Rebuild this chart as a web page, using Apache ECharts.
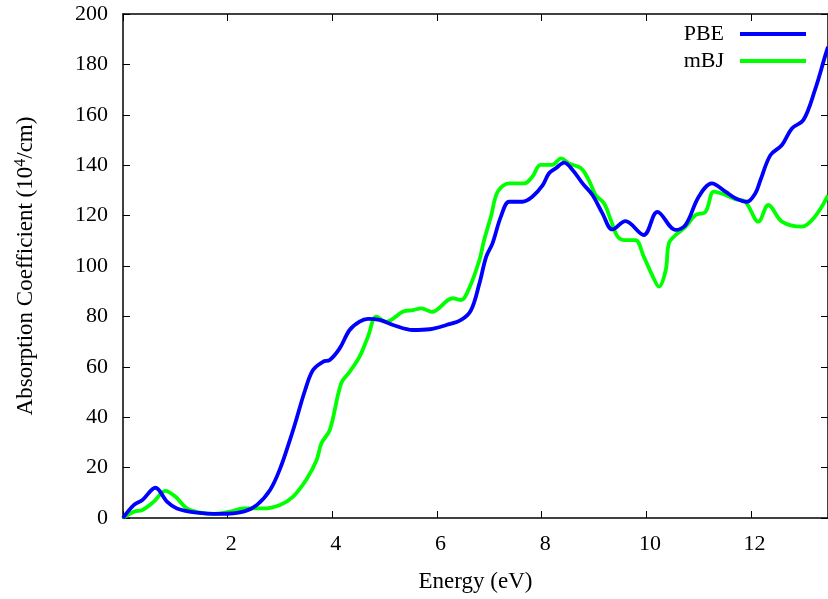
<!DOCTYPE html>
<html><head><meta charset="utf-8">
<script src="https://cdn.jsdelivr.net/npm/echarts@6/dist/echarts.min.js"></script>
<style>html,body{margin:0;padding:0;background:#fff}#c{width:828px;height:599px}</style>
</head><body><div id="c"></div>
<script>
const pbeX = [0,0.21,0.37,0.62,0.84,1.03,1.41,1.86,2.3,2.56,2.81,3.0,3.19,3.29,3.48,3.63,3.82,3.95,4.14,4.33,4.52,4.68,4.9,5.16,5.54,5.86,6.18,6.46,6.65,6.81,6.94,7.06,7.22,7.38,7.63,7.82,8.02,8.14,8.27,8.43,8.59,8.78,8.97,9.16,9.35,9.6,9.95,10.21,10.56,10.75,11.0,11.25,11.51,11.7,11.92,12.08,12.18,12.37,12.59,12.78,13.0,13.22,13.42,13.47];
const pbeY = [0,5.2,7.1,12.0,6.5,3.8,2.1,1.6,2.5,5.2,11.1,19.5,31,37.6,50.8,58.7,62,62.7,67.3,74.6,77.9,79,78.6,76.6,74.6,74.9,76.6,78.6,82.5,93.1,103.7,109,119.6,125.5,125.5,127.5,132.1,136.8,138.8,141,138.1,132.8,128.2,120.9,114.5,117.8,112.3,121.5,114.3,116.3,127.5,132.8,129.5,126.9,125.5,128.8,134.1,144,148,154.6,157.9,169.8,183.7,187];
const mbjX = [0,0.21,0.37,0.59,0.81,1.0,1.22,1.48,1.73,2.05,2.3,2.68,3.0,3.25,3.51,3.7,3.79,3.95,4.17,4.33,4.52,4.68,4.84,5.03,5.35,5.54,5.7,5.9,6.3,6.46,6.62,6.81,6.9,7.03,7.16,7.38,7.67,7.82,7.98,8.2,8.37,8.52,8.75,8.9,9.03,9.19,9.32,9.44,9.57,9.79,9.95,10.11,10.24,10.37,10.43,10.56,10.75,10.94,11.13,11.29,11.51,11.7,11.89,12.14,12.33,12.59,12.97,13.22,13.47];
const mbjY = [0,2.5,3.2,6.5,10.8,8.5,3.8,2.1,1.6,2.5,3.8,3.8,5.2,8.5,15.5,23,29.6,34.9,53.5,58,64,71.9,79.9,77.9,81.9,82.5,83.2,81.8,87.2,86.5,91.5,102.4,110.3,119.6,129.5,132.8,132.8,135.4,140.1,140.1,142.7,140.7,138.8,134.1,128.2,124.9,118.3,112,110.3,110.3,103.7,96.4,91.8,98.4,109,112.3,115.6,120.2,121.5,129.5,128.2,126.5,125.5,117.6,124.2,117.6,115.6,119.6,128];
const seriesNames = ['PBE','mBJ'];
const xTicks = {min:0, max:13.47, interval:2};
const yTicks = {min:0, max:200, interval:20};

const font = 'Liberation Serif';
const fs = 22;
const chart = echarts.init(document.getElementById('c'));
const pairs = (xs, ys) => xs.map((x,i)=>[x, ys[i]]);
const axisCommon = {
  axisLine:{show:true, onZero:false, lineStyle:{color:'#000', width:1.5}},
  axisTick:{show:true, inside:true, length:7, lineStyle:{color:'#000', width:1}},
  splitLine:{show:false}
};
chart.setOption({
  animation:false,
  backgroundColor:'#fff',
  grid:{left:123, right:-2, top:14, bottom:81, containLabel:false},
  legend:{
    data:seriesNames, orient:'vertical', right:22, top:23, align:'right', padding:0,
    icon:'rect', itemWidth:66, itemHeight:4, itemGap:5,
    textStyle:{fontFamily:font, fontSize:fs, lineHeight:18, color:'#000', padding:[0,11,0,0]}
  },
  xAxis:[
    Object.assign({type:'value', min:xTicks.min, max:xTicks.max, interval:xTicks.interval,
      name:'Energy (eV)', nameLocation:'middle', nameGap:52,
      nameTextStyle:{fontFamily:font, fontSize:23, color:'#000'},
      axisLabel:{fontFamily:font, fontSize:fs, color:'#000', margin:15, showMaxLabel:false, padding:[0,0,0,7],
        formatter:v=> v===0 ? '' : String(v)}}, axisCommon),
    Object.assign({type:'value', position:'top', min:xTicks.min, max:xTicks.max, interval:xTicks.interval,
      axisLabel:{show:false}}, axisCommon)
  ],
  yAxis:[
    Object.assign({type:'value', position:'left', min:yTicks.min, max:yTicks.max, interval:yTicks.interval,
      name:'Absorption Coefficient (10{sup|4}/cm)', nameLocation:'middle', nameGap:84, nameRotate:90,
      nameTextStyle:{fontFamily:font, fontSize:23, color:'#000',
        rich:{sup:{fontFamily:font, fontSize:16, color:'#000', verticalAlign:'bottom', padding:[0,0,10,0]}}},
      axisLabel:{fontFamily:font, fontSize:fs, color:'#000', margin:15}}, axisCommon),
    Object.assign({type:'value', position:'right', min:yTicks.min, max:yTicks.max, interval:yTicks.interval,
      axisLabel:{show:false}}, axisCommon)
  ],
  series:[
    {name:seriesNames[0], type:'line', data:pairs(pbeX,pbeY), smooth:0.35, showSymbol:false,
      lineStyle:{color:'#0000ff', width:3.8}, itemStyle:{color:'#0000ff'}, z:3},
    {name:seriesNames[1], type:'line', data:pairs(mbjX,mbjY), smooth:0.35, showSymbol:false,
      lineStyle:{color:'#00ff00', width:3.8}, itemStyle:{color:'#00ff00'}, z:2}
  ]
});
</script></body></html>
